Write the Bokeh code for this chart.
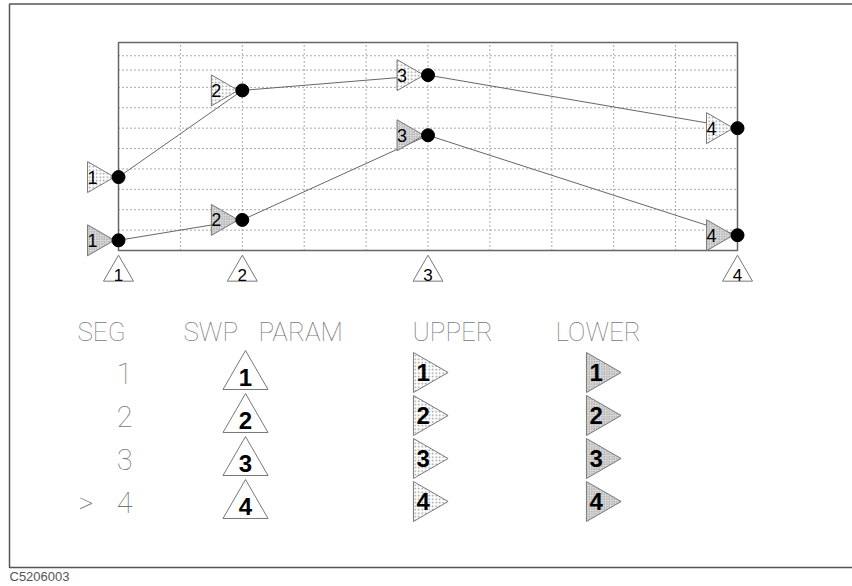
import math
from bokeh.plotting import figure
from bokeh.models import Range1d, ColumnDataSource
from bokeh.transform import dodge
from bokeh.core.properties import value
from bokeh.embed import file_html
from bokeh.resources import INLINE

# ---------------- data ----------------
segments = ["1", "2", "3", "4"]
seg_x = [0, 2, 5, 10]                 # sweep-parameter position of each segment
upper = [3.6, 7.85, 8.6, 6.0]         # upper limit at each segment
lower = [0.5, 1.5, 5.65, 0.75]        # lower limit at each segment
x_grid = [1, 2, 3, 4, 5, 6, 7, 8, 9]
y_grid = [1, 2, 3, 4, 5, 6, 7, 8, 8.85, 9.55]
x_max = 10
y_max = 10.2
active_seg = 4
caption = "C5206003"

# ---------------- layout ----------------
W, H = 852, 586
PX0, PY0 = 0, 0                       # page offset of the canvas
BOX_L, BOX_R, BOX_B, BOX_T = 118, 737, 250, 42
sx = (BOX_R - BOX_L) / x_max
sy = (BOX_B - BOX_T) / y_max

p = figure(width=W, height=H, output_backend="svg", toolbar_location=None,
           x_range=Range1d((PX0 - BOX_L) / sx, (PX0 + W - BOX_L) / sx),
           y_range=Range1d((BOX_B - (PY0 + H)) / sy, (BOX_B - PY0) / sy),
           min_border=0, outline_line_color=None)
p.extra_x_ranges = {"px": Range1d(PX0, PX0 + W)}
p.extra_y_ranges = {"px": Range1d(PY0 + H, PY0)}
p.axis.visible = False
p.grid.visible = False
p.background_fill_color = "white"
p.border_fill_color = "white"

GRAY = "#666666"
THIN = value("'Roboto Thin', 'Lato Hairline', 'DejaVu Sans Light', sans-serif")
SANS = value("Liberation Sans")

# outer frame (top, left, bottom)
p.line(x=[PX0 + W, 9, 9, PX0 + W], y=[3.5, 3.5, 567, 567], x_range_name="px",
       y_range_name="px", line_color="#555555", line_width=1.5)

# grid
p.segment(x0=x_grid, y0=0, x1=x_grid, y1=y_max, line_color="#555555",
          line_width=1, line_dash="1 3")
p.segment(x0=0, y0=y_grid, x1=x_max, y1=y_grid, line_color="#555555",
          line_width=1, line_dash="1 3")
p.quad(left=0, right=x_max, bottom=0, top=y_max, fill_color=None,
       line_color=GRAY, line_width=1.5)

src = ColumnDataSource(dict(x=seg_x, upper=upper, lower=lower, label=segments))

p.line("x", "upper", source=src, line_color=GRAY, line_width=1)
p.line("x", "lower", source=src, line_color=GRAY, line_width=1)

FLAG_UP = dict(fill_color="white", hatch_pattern=".", hatch_color="#999999",
               hatch_scale=3.5, line_color="#777777", line_width=1)
FLAG_LO = dict(fill_color="#d8d8d8", hatch_pattern=".", hatch_color="#888888",
               hatch_scale=2.5, line_color="#777777", line_width=1)

for col, sty in (("upper", FLAG_UP), ("lower", FLAG_LO)):
    p.scatter(x=dodge("x", -22 / sx), y=col, source=src, marker="triangle",
              angle=-math.pi / 2, size=31, **sty)
    p.scatter("x", col, source=src, size=13, color="black")
    p.text(x="x", y=col, text="label", source=src, x_offset=-31,
           text_align="left", text_baseline="middle", text_font=SANS,
           text_font_size="18px", text_color="black")

# sweep-parameter markers under the axis
p.scatter(x="x", y=272, source=src, y_range_name="px", marker="triangle",
          size=30, fill_color="white", line_color="#777777", line_width=1)
p.text(x="x", y=274, text="label", source=src, y_range_name="px",
       text_align="center", text_baseline="middle", text_font=SANS,
       text_font_size="17px", text_color="black")

# ---------------- table ----------------
ROW0, STEP = 373, 43
rows = [ROW0 + STEP * i for i in range(len(segments))]
hdr_x = [77, 183, 258, 412, 555]
hdr_t = ["SEG", "SWP", "PARAM", "UPPER", "LOWER"]
p.text(x=hdr_x, y=[331] * len(hdr_x), text=hdr_t, x_range_name="px",
       y_range_name="px", text_align="left", text_baseline="middle",
       text_font=THIN, text_font_size="26px", text_color="#777777")

# SEG column
p.text(x=[132] * len(rows), y=rows, text=segments, x_range_name="px",
       y_range_name="px", text_align="right", text_baseline="middle",
       text_font=THIN, text_font_size="29px", text_color="#777777")
p.text(x=[78], y=[rows[segments.index(str(active_seg))]], text=[">"],
       x_range_name="px", y_range_name="px", text_align="left",
       text_baseline="middle", text_font=THIN, text_font_size="29px",
       text_color="#777777")

# SWP PARAM column
tri_y = [r + 3 for r in rows]
p.scatter(x=[245] * len(rows), y=tri_y, x_range_name="px", y_range_name="px",
          marker="triangle", size=45, fill_color="white", line_color="#777777",
          line_width=1)
p.text(x=[245] * len(rows), y=[t + 1 for t in tri_y], text=segments,
       x_range_name="px", y_range_name="px", text_align="center",
       text_baseline="middle", text_font=SANS, text_font_style="bold",
       text_font_size="24px", text_color="black")

# UPPER / LOWER columns
flag_y = [r - 1 for r in rows]
for left, sty in ((413, FLAG_UP), (586, FLAG_LO)):
    p.scatter(x=[left + 11.5] * len(rows), y=flag_y, x_range_name="px",
              y_range_name="px", marker="triangle", angle=-math.pi / 2,
              size=40, **sty)
    p.text(x=[left + 3] * len(rows), y=flag_y, text=segments,
           x_range_name="px", y_range_name="px", text_align="left",
           text_baseline="middle", text_font=SANS, text_font_style="bold",
           text_font_size="24px", text_color="black")

p.text(x=[9], y=[576], text=[caption], x_range_name="px", y_range_name="px",
       text_align="left", text_baseline="middle", text_font=SANS,
       text_font_size="13px", text_color="#555555")

open("out.html", "w").write(file_html(p, INLINE))
